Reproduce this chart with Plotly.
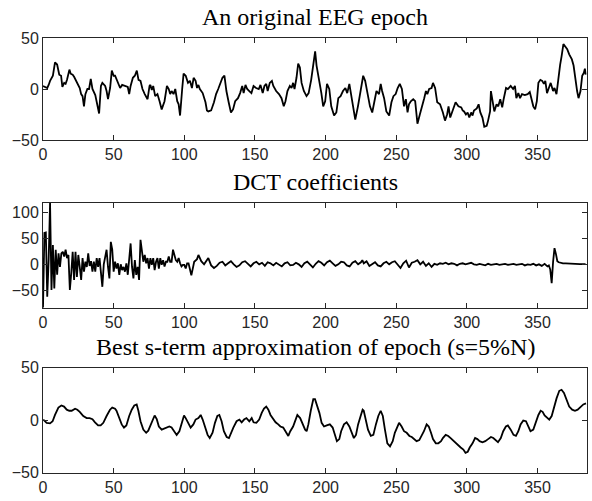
import plotly.graph_objects as go

# ---------------- data ----------------
eeg_x = [0, 3, 4, 5, 7, 8.5, 10, 11.5, 12.8, 13.7, 15, 16, 17, 18.7, 19.6, 21, 22, 24, 26, 27, 28, 29, 30, 31.4, 32.6, 33.8, 35, 37, 38.5, 39.7,
         41, 42, 44, 45, 46, 47.5, 48.7, 50, 51, 52.7, 54.6, 56, 58, 60, 61, 62, 63.6, 65, 66.4, 67.6, 69, 70.4, 72, 74, 75.4, 76, 77, 78, 79.4,
         81, 82.5, 84, 86, 87.7, 89, 90, 91, 92.4, 93.6, 95, 96, 97, 98.5, 99.5, 101, 102.6, 104, 105.4, 106.6, 108, 109, 110, 111, 113, 115,
         116, 117, 119, 121, 122.5, 124, 125.5, 127, 128.4, 129.8, 131.4, 133, 134.5, 136, 138, 139.5, 141, 142, 143.3, 144.5, 146, 147.5,
         149, 150.8, 152.7, 153.9, 155.5, 156.7, 158, 159, 160.5, 162, 163, 165, 167, 168.8, 170.4, 171.6, 173, 174.7, 175.9, 177, 178,
         179.4, 180.6, 181.8, 183, 184.6, 186.5, 188, 189.8, 191.2, 192.6, 193.6, 195, 197, 198.3, 199.7, 201, 202.6, 204, 206, 207.6, 209,
         210.6, 212.3, 214, 215.3, 216.8, 218, 219.4, 221, 222.9, 224.7, 226.6, 228, 229.8, 231.4, 233, 234.7, 236, 237.8, 239, 240, 241.4,
         243, 245, 246.6, 248, 249.6, 251, 252.5, 254, 255.5, 256.8, 258, 259, 260.3, 262, 263.4, 265, 266.7, 268, 269.8, 271, 272, 273.3,
         275, 276, 277.5, 279, 281, 283, 284.5, 286, 287, 288.2, 289.4, 291, 292, 294, 296, 297, 298, 299.3, 300.5, 301.7, 303, 304, 305,
         307, 308.3, 309.5, 311, 312.3, 314, 315, 316.4, 317, 318.2, 319.4, 321, 322.2, 323.6, 325, 326, 327.7, 329, 331, 332.7, 334, 335,
         336.4, 337.6, 339, 341, 343, 344.5, 346, 347, 348.3, 349.5, 350.6, 352, 353.3, 354.5, 355.5, 356.7, 358, 359.3, 361, 362, 363.4,
         364.5, 366, 367, 368.3, 370, 371, 372.4, 374.3, 375.5, 376.7, 378, 379, 380.4, 381.6, 382.8, 383.5, 384]
eeg_y = [3, 1, 4, 8, 13, 26, 24, 14, 13, 2, 6, 5, 9, 19, 15, 14, 12, 6, 1, -5, -7, -17, -5, 0, 0, 10, 0, -6, -15, -24,
         3, 6, 3, -2, -10, 1, 18, 13, 13, 8, 1, 4, 3, 2, -5, 3, 11, 13, 18, 9, 8, 0, -5, -10, 3, 4, -1, 3, -7,
         -5, -12, -20, -12, 3, 0, -5, -2, -5, 0, -12, -15, -26, 0, 15, 13, 6, 8, 1, 11, 8, 1, 4, 0, -4, -13,
         -21, -22, -21, -13, -5, 0, 6, 11, 13, -2, -13, -23, -20, -12, -9, -4, 3, -4, 4, 0, -2, -4,
         3, 1, 0, 4, -4, 3, 5, -2, 6, 8, 3, -2, -5, -9, -17, -12, -2, 3, 1, 6, 0,
         11, 25, 21, 6, -2, -7, -4, 9, 21, 37, 23, 13, -4, -17, -12, 5, 0, -17, -26, -23, -9,
         -7, -2, 1, -4, 5, -5, -13, -30, -17, -2, 13, 8, -5, -17, -23, -12, -2, -5, 5, -2, -9,
         -22, -26, -13, -7, -5, 1, 5, 0, -17, -10, -23, -15, -12, -10, -12, -34, -25, -17, -9, -2, -5, 0,
         1, 6, 1, -13, -15, -23, -31, -25, -17, -28, -23, -18, -13, -17, -18, -21, -22, -25, -23, -28, -23, -26, -21,
         -19, -15, -23, -28, -37, -36, -31, -22, -2, -12, -22, -15, -17, -10, -18, -10, 1, 0, 3, 0, 3, -9,
         -4, -9, -5, -6, -5, -3, -10, -17, -20, -12, 6, 9, 8, 5, 8, -4, 1, 6, -2, 1, -5,
         9, 24, 32, 44, 41, 39, 34, 29, 23, 9, -2, -9, -2, 13, 16, 20, 14]

dct_x = list(range(0, 104)) + [105, 107, 109, 110, 112, 114, 116, 117, 119, 121, 123, 125, 127, 129, 131, 133, 135, 137, 139, 141, 143,
        145, 147, 149, 151, 153, 155, 157, 159, 161, 163, 165, 167, 169, 171, 173, 175, 177, 179, 181, 183, 185, 187, 189, 191, 193,
        195, 197, 199, 201, 203, 205, 207, 209, 211, 213, 215, 217, 219, 221, 223, 225, 226, 227, 229, 231, 233, 235, 237, 239, 241,
        243, 245, 247, 249, 251, 253, 255, 257, 259, 261, 263, 265, 267, 269, 271, 273, 275, 277, 279, 281, 283, 285, 287, 289, 291,
        293, 295, 297, 299, 301, 303, 305, 307, 309, 311, 313, 315, 317, 319, 321, 323, 325, 327, 329, 331, 333, 335, 337, 339, 341,
        343, 345, 347, 349, 351, 353, 355, 357, 358, 359, 360, 361, 362, 363, 364, 365, 366, 368, 370, 372, 375, 380, 384]
dct_y = [-83, 60, 61, -62, 8, 118, -49, 37, -46, 28, -20, 21, -5, 21, 24, 15, 28, 12, 18, -49,
         -17, 24, -30, 24, -24, 18, -5, -30, 12, -14, 5, -5, 21, -3, 6, -14, 5, -14, 12, -5,
         12, -11, -43, 0, 18, 28, -5, -27, 43, 28, -14, 5, -8, 2, -20, 0, -11, -5, -14, 2,
         -20, 12, 40, -5, -27, 8, -20, -5, -30, 47, 21, 5, 18, 2, 12, -8, 12, -1, 12, -11,
         5, 12, -8, 12, -1, 8, -4, 5, 5, 15, 5, 5, 28, 15, 8, 5, 12, 2, -4, -1,
         -1, -8, 2, 2,
         -21, 5, 10, 18, 6, 0, 10, 12, -2, -7, -3, 3, 5, -2, 2, 6, 0, -5, -2, 4, 6,
         1, -4, 2, 5, 0, 3, -3, 4, 2, -2, 3, 0, -4, 2, 4, -2, -1, 3, 0, -5, 2, 5, -1, -6, 1,
         6, 3, -2, 4, 7, 2, -3, 0, 5, 4, -2, -4, 3, 6, 0, 4, 8, 2, 6, -3, 0, 4, -2, -4, 2,
         5, 0, 4, 6, -1, -7, 2, 7, -6, 3, 5, 8, 0, 5, -3, 2, -5, 1, -1, 2, 1, 3, 0, 2, 1,
         -2, 1, 2, 0, 1, 3, 0, -1, 1, 0, -2, 1, -1, 0, 1, -1, 0, 1, -1, 0, 1, -1, 0, 1, -2,
         0, -1, 1, -2, 0, -3, 1, -4, -2, -10, -36, 5, 31, 20, 6, 4, 3, 2, 2, 1.5, 1, 0.5, 0.5]

approx_x = [0.2, 2.6, 5, 6.8, 8.5, 10.9, 13, 14.9, 16.8, 18.6, 20.3, 22.7, 24.3, 26, 28.5, 30.9, 33, 35, 36.8, 39, 40.8, 42.7, 45,
            47.4, 49, 51, 52, 54, 55.7, 57.3, 59, 61, 62.8, 64.6, 66.3, 67.5, 69, 71, 73, 74.5, 76.4, 78, 79, 80.5, 82, 84, 86,
            87.5, 89.4, 91, 92.7, 94.6, 96.5, 98, 99.8, 101, 103, 104.5, 106.4, 108, 110, 111.6, 113, 114.6, 116.5, 118, 120,
            121.7, 123.4, 124.8, 126.4, 128, 130, 131.6, 133, 134.7, 137, 139, 140.6, 142.3, 144, 146, 147.7, 149, 151, 153,
            154.8, 156.4, 158, 159.5, 161, 163, 164.6, 166.5, 168, 170, 172, 173.6, 175, 177, 178.8, 180, 182, 183.8, 185.5,
            186.6, 187.8, 189.5, 191.3, 192.5, 193.7, 195.6, 197.2, 198.9, 200.8, 203, 205, 206.6, 208, 209.7, 211, 213, 214.9,
            216.8, 218.5, 220, 221.5, 223, 224.8, 226.2, 227, 228.5, 230, 232, 233.8, 235.6, 237.3, 239, 240.5, 242, 243.7,
            245.6, 247.5, 249, 250.7, 252, 253.8, 255.5, 257.4, 259.3, 261, 262.6, 264.4, 266.3, 268, 269.6, 271.5, 273, 274.6,
            276, 278, 279.8, 281.7, 283, 285, 286.8, 288.5, 290, 292, 294, 295.6, 297.5, 299, 300.6, 302, 304, 305.8, 307.4,
            309, 311, 313, 315, 317, 318.7, 320.5, 322, 324, 325.7, 327.6, 329, 331, 333, 334.7, 336.4, 338, 339.9, 341.8,
            343.5, 345, 347, 349, 350.6, 352.2, 353.6, 355, 357, 358.3, 360, 361.6, 363.5, 365.4, 367, 368.7, 370.6, 372.4,
            374.5, 376.5, 378.4, 380.5, 382.4, 384.3]
approx_y = [0.6, -2.5, -3, -1, 5, 12, 14, 13, 10, 9, 9, 11, 10, 8, 4, 2, 2, 1, -2, -5, -5, -2.5, 4,
            10, 12, 11, 9, 2, -4, -7, -5, 4, 10, 14, 15, 9, -1, -9, -12, -10, -4, 2, 4.5, 1, -6, -9, -8,
            -7, -6, -7, -10.5, -14, -10.5, -2.5, 4.5, 2, -4, -7, -4, 0.6, 2, 5, 0.6, -7, -14, -17, -12,
            -2.5, 4, 5, -1, -10.5, -16, -17, -12, -7, -1, 0.6, -2, 0.6, 2, -1, 2, -2, -2.5, 0.6,
            7, 11, 13, 10, 5, 0.6, -2, -4, -6, -7, -12, -15, -10.5, -6, 0.6, 5, 2, -4, -9,
            -10.5, -4, 9, 20, 20, 15, 7, -2.5, -6, -5, -4, -7, -14, -20, -18, -10.5, -4, -2,
            -6, -12, -17, -14, -4, 4, 10, 9, 0.6, -9, -15, -14, -4, 4, 9, 4, -9, -22,
            -25, -20, -12, -6, -2.5, -6, -10.5, -12, -15, -16, -18, -20, -19, -15, -10.5, -4, -6, -12,
            -18, -22, -22, -20, -17, -14, -15, -17, -19, -22, -24, -26, -28, -31, -30, -26, -22, -17, -18,
            -20, -21, -20, -18, -16, -17, -19, -21, -17, -10.5, -6, -5, -9, -14, -15, -10.5, -4, -0.3, -1,
            -6, -10.5, -9, -1, 5, 9, 8, 4.5, 2, 0.6, 4, 12, 21, 28, 29, 26, 20, 13,
            10, 9, 10, 13, 15, 16]

x_ticks = [0, 50, 100, 150, 200, 250, 300, 350]
y_ticks_eeg = [-50, 0, 50]
y_ticks_dct = [-50, 0, 50, 100]
titles = ["An original EEG epoch", "DCT coefficients", "Best s-term approximation of epoch (s=5%N)"]

# ---------------- figure ----------------
W, H = 592, 501
box = [(38, 140), (202.7, 307.7), (367.7, 472.7)]  # top, bottom pixel of each axes box


def dom(top, bottom):
    return [1 - bottom / H, 1 - top / H]


fig = go.Figure()
series = [(eeg_x, eeg_y), (dct_x, dct_y), (approx_x, approx_y)]
for i, (xs, ys) in enumerate(series):
    sfx = "" if i == 0 else str(i + 1)
    fig.add_trace(go.Scatter(x=xs, y=ys, mode="lines", line=dict(color="black", width=1.8),
                             xaxis="x" + sfx, yaxis="y" + sfx, showlegend=False, hoverinfo="skip"))

axis_common = dict(showline=True, mirror="ticks", linecolor="#262626", linewidth=1, ticks="inside",
                   ticklen=5, tickcolor="#262626", tickwidth=1, showgrid=False, zeroline=False,
                   automargin=False,
                   tickfont=dict(family="Liberation Sans, Arial, sans-serif", size=16, color="#262626"))

layout = dict(width=W, height=H, margin=dict(l=43, r=5, t=0, b=0, autoexpand=False),
              plot_bgcolor="white", paper_bgcolor="white")
yranges = [[-50, 50], [-83, 118], [-50, 50]]
yticks = [y_ticks_eeg, y_ticks_dct, y_ticks_eeg]
annotations = []
for i in range(3):
    sfx = "" if i == 0 else str(i + 1)
    top, bottom = box[i]
    layout["xaxis" + sfx] = dict(axis_common, domain=[0, 1], range=[0, 385], tickvals=x_ticks,
                                 anchor="y" + sfx)
    layout["yaxis" + sfx] = dict(axis_common, domain=dom(top, bottom), range=yranges[i],
                                 tickvals=yticks[i], anchor="x" + sfx)
    annotations.append(dict(text=titles[i], xref="paper", yref="paper", x=0.5, y=1 - (top - 6) / H,
                            xanchor="center", yanchor="bottom", showarrow=False,
                            font=dict(family="Liberation Serif, Times New Roman, serif", size=24,
                                      color="black")))
layout["annotations"] = annotations
fig.update_layout(**layout)
fig.write_html("out.html")
